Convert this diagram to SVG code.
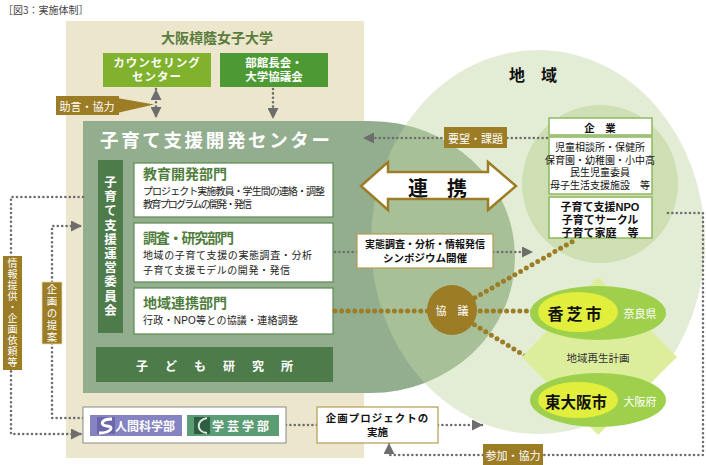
<svg xmlns="http://www.w3.org/2000/svg" width="706" height="465" viewBox="0 0 706 465">
<style>
text{font-family:"Noto Sans CJK JP","Noto Sans",sans-serif;}
text.lf,text.desc{font-family:"Liberation Sans","Noto Sans CJK JP",sans-serif;}
.w{fill:#fff}
.b{font-weight:700}
.c{text-anchor:middle;dominant-baseline:central}
.v{writing-mode:vertical-rl;text-anchor:middle}
.gd{fill:none;stroke:#6d6d6d;stroke-width:2.6;stroke-dasharray:0 4.4;stroke-linecap:round}
.bd{fill:none;stroke:#9c7c24;stroke-width:5;stroke-dasharray:0 6.6;stroke-linecap:round}
.brown{fill:#9c7c24}
.wbox{fill:#fff;stroke:#5b8a50;stroke-width:1.2}
.kbox{fill:#fff;stroke:#8fb860;stroke-width:1.5}
.head{fill:#4f7d3c;font-weight:700;font-size:14px}
.desc{fill:#222;font-size:10px}
</style>
<defs>
<marker id="ag" viewBox="0 0 10 10" refX="10" refY="5" markerWidth="13" markerHeight="11" markerUnits="userSpaceOnUse" orient="auto-start-reverse"><path d="M0,0 L10,5 L0,10 z" fill="#6d6d6d"/></marker>
</defs>
<rect width="706" height="465" fill="#fff"/>
<text x="3" y="14" font-size="10" fill="#444">［図3：実施体制］</text>

<g id="university">
<rect x="66" y="21" width="298" height="437" fill="#ece6cc"/>
<text x="217" y="37" class="c b" font-size="14" fill="#5a7d3e">大阪樟蔭女子大学</text>
</g>
<g id="counseling">
<rect x="103" y="53" width="108" height="34" fill="#80b22e"/>
<text x="157" y="63" class="lf c w b" font-size="11.5" letter-spacing="1">カウンセリング</text>
<text x="157" y="77" class="lf c w b" font-size="11.5" letter-spacing="1">センター</text>
</g>
<g id="bukancho">
<rect x="220" y="53" width="108" height="34" fill="#4d9a35"/>
<text x="274" y="63" class="lf c w b" font-size="11.5">部館長会・</text>
<text x="274" y="77" class="lf c w b" font-size="11.5">大学協議会</text>
</g>

<g id="center">
<path d="M83,121 H370 A145,136 0 0 1 370,393 H83 Z" fill="#93ae8f"/>
</g>

<g id="region">
<ellipse cx="538" cy="242" rx="167" ry="192" fill="#c1d7a4" fill-opacity="0.45"/>
<ellipse cx="600" cy="184" rx="78" ry="79" fill="#cee0b3"/>
<text x="517" y="74" class="c b" font-size="16" fill="#111">地</text>
<text x="549" y="74" class="c b" font-size="16" fill="#111">域</text>
</g>

<g id="center-content">
<text x="100" y="147" class="w b" font-size="18.5" textLength="230" lengthAdjust="spacing">子育て支援開発センター</text>
</g>

<g id="committee">
<rect x="98" y="160" width="25" height="173" fill="#4e7b4a"/>
<text x="110.5" y="247" class="v w b" font-size="12.5" letter-spacing="1.7">子育て支援運営委員会</text>
</g>

<g id="kyoiku">
<rect class="wbox" x="134" y="163" width="199" height="54"/>
<text x="143" y="179" class="head" textLength="84">教育開発部門</text>
<text x="143" y="195" class="desc" textLength="182">プロジェクト実施教員・学生間の連絡・調整</text>
<text x="143" y="208" class="desc" textLength="109">教育プログラムの開発・発信</text>
</g>
<g id="chosa">
<rect class="wbox" x="134" y="223" width="199" height="59"/>
<text x="143" y="243" class="head" textLength="91">調査・研究部門</text>
<text x="143" y="259" class="desc" textLength="169">地域の子育て支援の実態調査・分析</text>
<text x="143" y="274" class="desc" textLength="147">子育て支援モデルの開発・発信</text>
</g>
<g id="chiiki">
<rect class="wbox" x="134" y="288" width="199" height="46"/>
<text x="143" y="308" class="head" textLength="84">地域連携部門</text>
<text x="143" y="324" class="desc" textLength="155">行政・NPO等との協議・連絡調整</text>
</g>
<g id="kodomo">
<rect x="96" y="347" width="237" height="35" fill="#4e7b4a"/>
<text class="w b c" font-size="12"><tspan x="142" y="365">子</tspan><tspan x="171" y="365">ど</tspan><tspan x="200" y="365">も</tspan><tspan x="229" y="365">研</tspan><tspan x="258" y="365">究</tspan><tspan x="287" y="365">所</tspan></text>
</g>

<g id="connectors">
<path class="gd" d="M156,89 V118" marker-start="url(#ag)" marker-end="url(#ag)"/>
<path class="gd" d="M273,89 V119" marker-end="url(#ag)"/>
<path class="gd" d="M547,138 H363" marker-end="url(#ag)"/>
<path class="gd" d="M335,252 H533" marker-end="url(#ag)"/>
<path class="gd" d="M286,425 H317"/>
<path class="gd" d="M438,425 H483" marker-end="url(#ag)"/>
<path class="gd" d="M668,213 H703 V455 H389 V443" marker-end="url(#ag)"/>
<path class="gd" d="M83,197 H11 V434 H82" marker-end="url(#ag)"/>
<path class="gd" d="M83,418 H52 V226 H82" marker-end="url(#ag)"/>
<path class="bd" d="M335,311 H540"/>
<path class="bd" d="M452,311 L575,240"/>
<path class="bd" d="M452,311 L566,381"/>
</g>

<g id="jogen">
<polygon class="brown" points="117,98 117,113 154,104.5"/>
<rect class="brown" x="56" y="96" width="63" height="19"/>
<text x="87" y="106" class="c w" font-size="11">助言・協力</text>
</g>

<g id="yobo">
<rect class="brown" x="444" y="127" width="63" height="21"/>
<text x="475.5" y="138" class="c w" font-size="11">要望・課題</text>
</g>

<g id="renkei">
<polygon points="361,186 388,162 388,172 488,172 488,162 516,186 488,210 488,199 388,199 388,210" fill="#fff" stroke="#9c7c24" stroke-width="2.5" stroke-linejoin="miter"/>
<text x="418" y="187" class="c b" font-size="20" fill="#111">連</text>
<text x="457" y="187" class="c b" font-size="20" fill="#111">携</text>
</g>

<g id="kigyo">
<rect class="kbox" x="549" y="118" width="103" height="17"/>
<text x="600" y="127" class="c b" font-size="10.5" fill="#111">企　業</text>
<rect class="kbox" x="549" y="137" width="103" height="57"/>
<text x="600" y="147" class="lf c" font-size="10" fill="#111">児童相談所・保健所</text>
<text x="600" y="160" class="lf c" font-size="10" fill="#111">保育園・幼稚園・小中高</text>
<text x="600" y="172.5" class="lf c" font-size="10" fill="#111">民生児童委員</text>
<text x="600" y="185" class="lf c" font-size="10" fill="#111">母子生活支援施設　等</text>
<rect class="kbox" x="549" y="197" width="103" height="41"/>
<text x="600" y="207" class="lf c b" font-size="11" fill="#111">子育て支援NPO</text>
<text x="600" y="220" class="lf c b" font-size="11" fill="#111">子育てサークル</text>
<text x="600" y="233" class="lf c b" font-size="11" fill="#111">子育て家庭　等</text>
</g>

<g id="jittai">
<rect x="357" y="234" width="136" height="34" fill="#fff" stroke="#b49c52" stroke-width="1.2"/>
<text x="425" y="244.5" class="lf c b" font-size="10" fill="#111">実態調査・分析・情報発信</text>
<text x="425" y="257.5" class="lf c b" font-size="10.5" fill="#111">シンポジウム開催</text>
</g>

<g id="kyogi">
<circle cx="452" cy="310" r="25" class="brown"/>
<text x="452" y="310" class="c w" font-size="11">協　議</text>
</g>

<g id="saisei">
<polygon points="598,277 677,357 598,435 522,357" fill="#dcee9c"/>
<text x="598" y="357" class="c" font-size="10.5" fill="#333">地域再生計画</text>
</g>

<g id="kashiba">
<ellipse cx="598" cy="313" rx="68" ry="27" fill="#9fd04c"/>
<ellipse cx="578" cy="312" rx="40" ry="20" fill="#e2ee3c"/>
<text x="576" y="313" class="c b" font-size="16" fill="#111" letter-spacing="3">香芝市</text>
<text x="640" y="313" class="c w" font-size="11">奈良県</text>
</g>

<g id="higashiosaka">
<ellipse cx="598" cy="400" rx="68" ry="27" fill="#9fd04c"/>
<ellipse cx="578" cy="400" rx="40" ry="18" fill="#e2ee3c"/>
<text x="576" y="401" class="c b" font-size="15.5" fill="#111">東大阪市</text>
<text x="640" y="401" class="c w" font-size="11">大阪府</text>
</g>

<g id="faculties">
<rect x="83" y="407" width="203" height="36" fill="#fff" stroke="#8a8a8a" stroke-width="1"/>
<rect x="90" y="415" width="92" height="21" fill="#8583c2"/>
<rect x="97" y="417" width="18" height="17" fill="#6a68a8"/>
<path d="M112,419 C100,419 100,426 107,426 C114,426 112,433 99,433" fill="none" stroke="#fff" stroke-width="3"/>
<text x="145" y="425.5" class="c w b" font-size="12">人間科学部</text>
<rect x="187" y="415" width="92" height="21" fill="#5c9c74"/>
<rect x="194" y="417" width="16" height="17" fill="#2f5f42"/>
<path d="M207,418 C196,420 196,432 207,433" fill="none" stroke="#dfe9de" stroke-width="2"/>
<text x="242" y="425.5" class="c w b" font-size="12" letter-spacing="3">学芸学部</text>
</g>

<g id="kikaku">
<rect x="317" y="407" width="121" height="36" fill="#fff" stroke="#b49c52" stroke-width="1.2"/>
<text x="377.5" y="418" class="lf c b" font-size="10.5" fill="#111" letter-spacing="1">企画プロジェクトの</text>
<text x="377.5" y="432" class="lf c b" font-size="10.5" fill="#111">実施</text>
</g>

<g id="sanka">
<rect class="brown" x="483" y="444" width="60" height="21"/>
<text x="513" y="455" class="c w" font-size="11">参加・協力</text>
</g>

<g id="johoteikyo">
<rect class="brown" x="3" y="256" width="19" height="114"/>
<text x="12.5" y="313.5" class="v w" font-size="10" letter-spacing="1">情報提供・企画依頼等</text>
</g>
<g id="teian">
<rect class="brown" x="42" y="282" width="20" height="62" stroke="#e8dcb0" stroke-width="0.8"/>
<text x="52" y="314" class="v w" font-size="10.5" letter-spacing="1.5">企画の提案</text>
</g>
</svg>
